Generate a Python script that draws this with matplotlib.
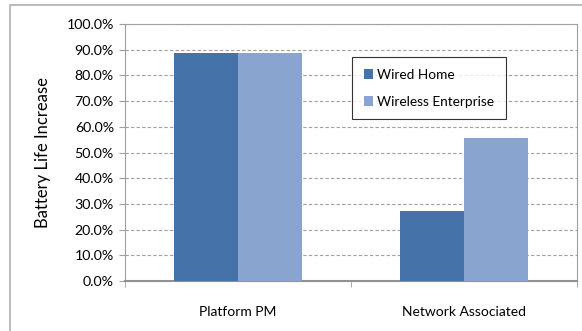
import numpy as np
import matplotlib
matplotlib.use("Agg")
import matplotlib.pyplot as plt
from matplotlib.patches import Rectangle
from matplotlib.ticker import FuncFormatter

plt.rcParams['font.family'] = ['Lato', 'DejaVu Sans']

categories = ["Platform PM", "Network Associated"]
wired_home = [88.7, 27.4]
wireless_enterprise = [88.7, 55.5]
series_names = ["Wired Home", "Wireless Enterprise"]
colors = ["#4672AA", "#89A5CF"]

fig = plt.figure(figsize=(5.82, 3.31), dpi=100)
ax = fig.add_axes([125/582, 1-281/331, 452/582, 257/331])

x = np.arange(len(categories))
w = 0.283
ax.bar(x - w/2, wired_home, w, color=colors[0], label=series_names[0], zorder=3)
ax.bar(x + w/2, wireless_enterprise, w, color=colors[1], label=series_names[1], zorder=3)

ax.set_xlim(-0.5, 1.5)
ax.set_ylim(0, 100)
ax.set_yticks(np.arange(0, 101, 10))
ax.yaxis.set_major_formatter(FuncFormatter(lambda v, p: "%.1f%%" % v))
ax.set_xticks(x)
ax.set_xticklabels(categories)
ax.set_xticks([-0.5, 0.5, 1.5], minor=True)
ax.tick_params(axis='x', which='major', length=0, pad=18, labelsize=10)
ax.tick_params(axis='x', which='minor', length=4, color='#a0a0a0')
ax.tick_params(axis='y', length=4, color='#a0a0a0', labelsize=10.2, pad=4)

ax.grid(axis='y', linestyle=(0, (3, 2)), color='#a0a0a0', linewidth=0.8, zorder=0)
for s in ['left', 'top', 'right']:
    ax.spines[s].set_color('#a0a0a0')
ax.spines['bottom'].set_color('#909090')
ax.spines['bottom'].set_linewidth(1.5)

ax.set_ylabel("Battery Life Increase", fontsize=12, labelpad=11)

leg = ax.legend(loc='upper left', bbox_to_anchor=(352/582, 1-57/331),
                bbox_transform=fig.transFigure, fontsize=9.8, frameon=True,
                fancybox=False, edgecolor='black', handlelength=0.7,
                handleheight=0.7, labelspacing=1.1, borderpad=0.85,
                handletextpad=0.3, borderaxespad=0)
leg.get_frame().set_linewidth(0.8)
leg.set_zorder(5)

# outer chart frame
fig.patches.append(Rectangle((10/582, -0.1), 1.2, 1 - 5/331 + 0.1,
                             transform=fig.transFigure, fill=False,
                             edgecolor='#b0b0b0', linewidth=1.2, clip_on=False))

fig.savefig("out.png", dpi=100)
